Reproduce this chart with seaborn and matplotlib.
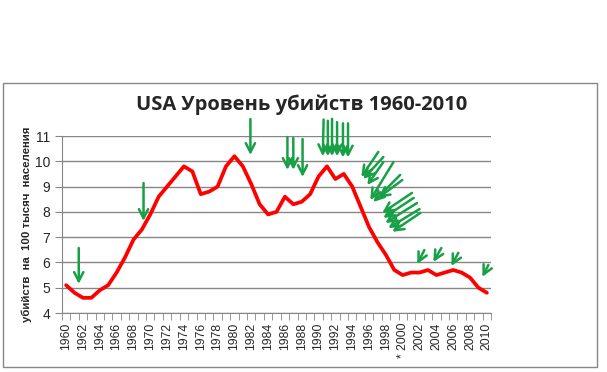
import matplotlib
matplotlib.use('Agg')
import matplotlib.pyplot as plt
import seaborn as sns
import pandas as pd
from matplotlib.patches import Rectangle

# murder rate per 100k, USA
years = list(range(1960, 2011))
rate = [5.1, 4.8, 4.6, 4.6, 4.9, 5.1, 5.6, 6.2, 6.9, 7.3,
        7.9, 8.6, 9.0, 9.4, 9.8, 9.6, 8.7, 8.8, 9.0, 9.8,
        10.2, 9.8, 9.1, 8.3, 7.9, 8.0, 8.6, 8.3, 8.4, 8.7,
        9.4, 9.8, 9.3, 9.5, 9.0, 8.2, 7.4, 6.8, 6.3, 5.7,
        5.5, 5.6, 5.6, 5.7, 5.5, 5.6, 5.7, 5.6, 5.4, 5.0,
        4.8]

# hand-drawn green arrows: (tail year, tail value, head year, head value)
arrows = [
    (1961.5, 6.57, 1961.5, 5.15),
    (1969.2, 9.14, 1969.2, 7.64),
    (1981.9, 11.67, 1981.9, 10.25),
    (1986.3, 10.96, 1986.3, 9.66),
    (1987.0, 10.92, 1987.0, 9.66),
    (1988.1, 10.88, 1988.1, 9.38),
    (1990.6, 11.65, 1990.5, 10.2),
    (1991.1, 11.6, 1991.1, 10.2),
    (1991.6, 11.68, 1991.6, 10.2),
    (1992.2, 11.55, 1992.2, 10.2),
    (1992.9, 11.5, 1992.9, 10.15),
    (1993.5, 11.5, 1993.5, 10.15),
    (1997.1, 10.37, 1995.08, 9.38),
    (1997.7, 10.17, 1995.31, 9.30),
    (1997.7, 9.97, 1995.79, 9.06),
    (1998.9, 9.97, 1996.15, 8.47),
    (1999.7, 9.46, 1996.5, 8.39),
    (1999.95, 9.26, 1997.1, 8.55),
    (2001.1, 8.75, 1997.57, 7.96),
    (2001.3, 8.55, 1997.69, 7.76),
    (2001.7, 8.35, 1997.93, 7.56),
    (2002.0, 8.11, 1998.29, 7.36),
    (2002.1, 7.96, 1998.76, 7.21),
    (2002.57, 6.49, 2001.74, 5.94),
    (2004.59, 6.57, 2003.64, 6.02),
    (2006.61, 6.38, 2005.78, 5.86),
    (2010.18, 5.90, 2009.47, 5.43),
]

label_years = list(range(1960, 2011, 2))
label_text = ['* 2000' if y == 2000 else str(y) for y in label_years]

df = pd.DataFrame({'year': years, 'rate': rate})

sns.set_style('white')
plt.rcParams['font.family'] = ['Liberation Sans', 'DejaVu Sans']

fig = plt.figure(figsize=(6.07, 3.72), dpi=100)
ax = fig.add_axes([0.102, 0.1586, 0.707, 0.4758])

# outer chart frame
fig.patches.append(Rectangle((3/607, 1-367/372), 594/607, 284/372,
                             transform=fig.transFigure, fill=False,
                             edgecolor='#868686', lw=1))

sns.lineplot(data=df, x='year', y='rate', color='#ff0000', lw=2.7, ax=ax)

for x0, y0, x1, y1 in arrows:
    ax.annotate('', xy=(x1, y1), xytext=(x0, y0),
                arrowprops=dict(arrowstyle='->,head_length=0.65,head_width=0.33',
                                color='#18a046', lw=1.8, shrinkA=0, shrinkB=0),
                annotation_clip=False)

ax.set_xlim(1959.5, 2010.5)
ax.set_ylim(4, 11)
ax.set_yticks(range(4, 12))
ax.yaxis.grid(True, color='#868686', lw=1)
ax.set_xticks(label_years)
ax.set_xticklabels(label_text, rotation=90, fontsize=8.8)
ax.set_xticks([y - 0.5 for y in years] + [2010.5], minor=True)
ax.tick_params(axis='x', which='major', length=0, pad=7)
ax.tick_params(axis='x', which='minor', length=5, color='#868686', direction='out', bottom=True)
ax.tick_params(axis='y', labelsize=10, length=5, color='#868686', direction='out', left=True)
for s in ['top', 'right']:
    ax.spines[s].set_visible(False)
for s in ['left', 'bottom']:
    ax.spines[s].set_color('#868686')

ax.set_xlabel('')
ax.set_ylabel('убийств  на  100 тысяч  населения', fontsize=8.2, fontweight='bold')
ax.yaxis.set_label_coords(-0.07, 0.5)

fig.text(0.497, 1-105/372, 'USA Уровень убийств 1960-2010', ha='center', va='center',
         fontsize=14.5, fontweight='bold', family=['Open Sans', 'DejaVu Sans'])

fig.savefig('out.png', dpi=100)
